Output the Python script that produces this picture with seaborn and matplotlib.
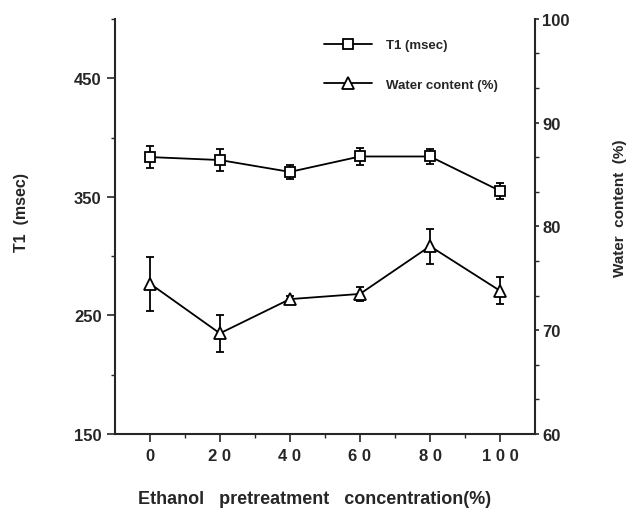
import matplotlib
matplotlib.use("Agg")
import matplotlib.pyplot as plt
from matplotlib.ticker import MultipleLocator
from matplotlib.lines import Line2D
import seaborn as sns
import pandas as pd

# data
concentration = [0, 20, 40, 60, 80, 100]
t1_msec = [383.5, 381, 371, 384, 384, 355]
t1_err = [9.4, 9.0, 5.6, 7.5, 6.6, 6.7]
water_pct = [74.5, 69.7, 73.0, 73.5, 78.1, 73.8]
water_err = [2.6, 1.8, 0.3, 0.7, 1.7, 1.3]
x_ticks = [0, 20, 40, 60, 80, 100]
x_tick_labels = ["0", "2 0", "4 0", "6 0", "8 0", "1 0 0"]

df = pd.DataFrame({"conc": concentration, "t1": t1_msec, "water": water_pct})

sns.set_style("ticks")
plt.rcParams["font.family"] = ["Liberation Sans", "DejaVu Sans"]
plt.rcParams["font.weight"] = "bold"

fig = plt.figure(figsize=(6.31, 5.1), dpi=100)
ax = fig.add_axes([0.182, 0.147, 0.666, 0.814])
ax2 = ax.twinx()

lw = 1.3
ax.errorbar(concentration, t1_msec, yerr=t1_err, fmt="none", ecolor="black",
            elinewidth=lw, capsize=3, capthick=lw)
sns.lineplot(data=df, x="conc", y="t1", ax=ax, color="black", linewidth=lw,
             marker="s", markersize=6.5, markerfacecolor="white",
             markeredgecolor="black", markeredgewidth=lw)

ax2.errorbar(concentration, water_pct, yerr=water_err, fmt="none", ecolor="black",
             elinewidth=lw, capsize=3, capthick=lw)
sns.lineplot(data=df, x="conc", y="water", ax=ax2, color="black", linewidth=lw,
             marker="^", markersize=9, markerfacecolor="white",
             markeredgecolor="black", markeredgewidth=lw)

ax.set_xlim(-10, 110)
ax.set_ylim(150, 500)
ax2.set_ylim(60, 100)

ax.set_xticks(x_ticks)
ax.set_xticklabels(x_tick_labels)
ax.set_xticks([10, 30, 50, 70, 90], minor=True)
ax.set_yticks([150, 250, 350, 450])
ax.yaxis.set_minor_locator(MultipleLocator(50))
ax2.set_yticks([60, 70, 80, 90, 100])
ax2.yaxis.set_minor_locator(MultipleLocator(10 / 3))

for a in (ax, ax2):
    a.tick_params(which="major", length=6, width=1.2, labelsize=12)
    a.tick_params(which="minor", length=3, width=1.0)
    for s in a.spines.values():
        s.set_linewidth(1.5)
    a.spines["top"].set_visible(False)
ax.tick_params(axis="x", which="major", pad=4)
ax2.tick_params(axis="y", which="major", length=3, pad=2)
ax.spines["right"].set_visible(False)
ax2.spines["left"].set_visible(False)
ax2.spines["bottom"].set_visible(False)

ax.set_xlabel("Ethanol   pretreatment   concentration(%)", fontsize=13,
              fontweight="bold")
ax.xaxis.set_label_coords(0.475, -0.135)
ax.set_ylabel("T1  (msec)", fontsize=11.5, fontweight="bold")
ax.yaxis.set_label_coords(-0.205, 0.537)
ax2.set_ylabel("Water  content  (%)", fontsize=11, fontweight="bold")
ax2.yaxis.set_label_coords(1.185, 0.547)

handles = [
    Line2D([], [], color="black", linewidth=lw, marker="s", markersize=6.5,
           markerfacecolor="white", markeredgewidth=lw),
    Line2D([], [], color="black", linewidth=lw, marker="^", markersize=9,
           markerfacecolor="white", markeredgewidth=lw),
]
fig.legend(handles, ["T1 (msec)", "Water content (%)"], loc="upper left",
           bbox_to_anchor=(0.495, 0.945), frameon=False, handlelength=3.6,
           handletextpad=1.1, labelspacing=2.1,
           prop={"size": 9.5, "weight": "bold"})

fig.savefig("out.png", dpi=100)
